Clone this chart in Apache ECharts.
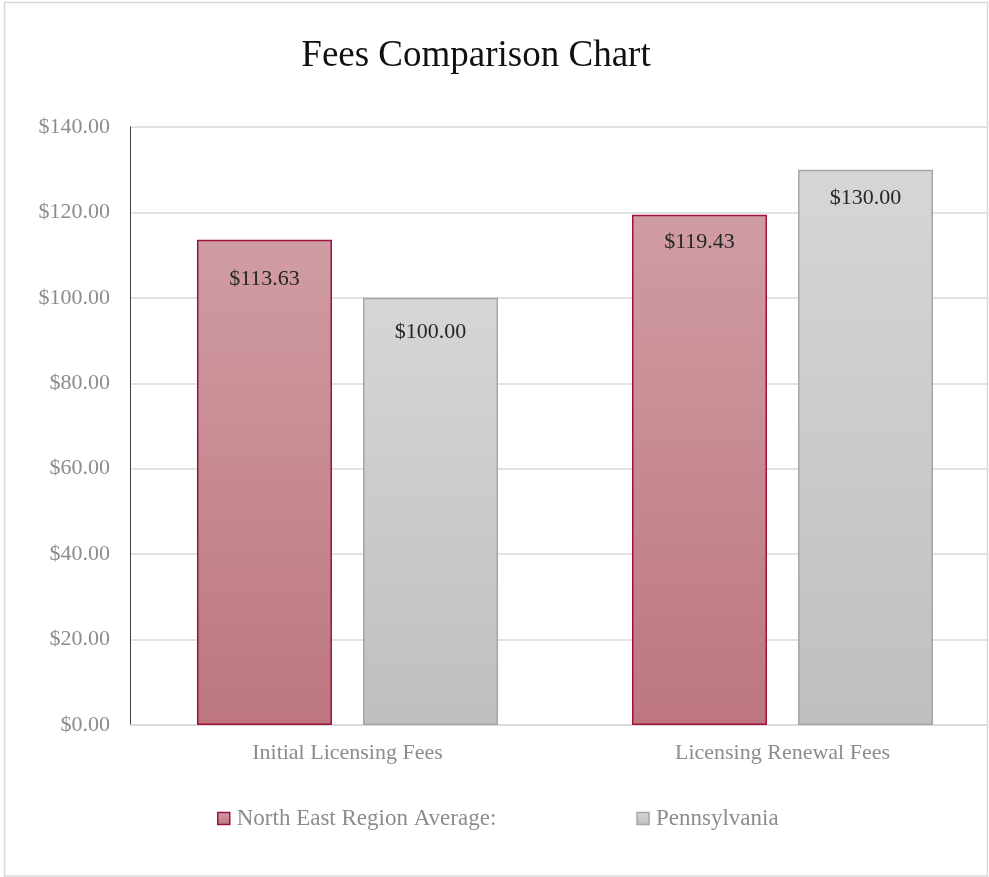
<!DOCTYPE html>
<html>
<head>
<meta charset="utf-8">
<script src="https://cdn.jsdelivr.net/npm/echarts@6/dist/echarts.min.js"></script>
<style>
html,body{margin:0;padding:0;background:#fff;}
#chart{width:989px;height:877px;}
</style>
</head>
<body>
<div id="chart"></div>
<script>
var categories = ['Initial Licensing Fees', 'Licensing Renewal Fees'];
var northEastValues = [113.63, 119.43];
var pennsylvaniaValues = [100.00, 130.00];
var seriesNames = ['North East Region Average:', 'Pennsylvania'];
var yTicks = [0, 20, 40, 60, 80, 100, 120, 140];
// label distance from bar top (style only)
var northEastLabelDist = [29, 16];
var pennsylvaniaLabelDist = [23, 18];

var FONT = '"Liberation Serif", "DejaVu Serif", serif';
var chart = echarts.init(document.getElementById('chart'), null, {renderer: 'canvas'});

function fmt(v){ return '$' + v.toFixed(2); }

var redGrad = new echarts.graphic.LinearGradient(0,0,0,1,[{offset:0,color:'#d09ca4'},{offset:1,color:'#bd767e'}]);
var grayGrad = new echarts.graphic.LinearGradient(0,0,0,1,[{offset:0,color:'#d6d6d6'},{offset:1,color:'#bfbfbf'}]);

function labelStyle(){
  return {
    show: true, position: 'insideTop', distance: 18,
    formatter: function(p){ return fmt(p.value); },
    color: '#262626', fontFamily: FONT, fontSize: 22
  };
}
function withLabels(values, dists){
  return values.map(function(v, i){ return {value: v, label: {distance: dists[i]}}; });
}

var option = {
  backgroundColor: '#ffffff',
  animation: false,
  title: {
    text: 'Fees Comparison Chart', left: 471, top: 33, textAlign: 'center',
    textStyle: {fontFamily: FONT, fontSize: 37, fontWeight: 'normal', color: '#111111'}
  },
  legend: {
    left: 212, top: 802, itemGap: 140, itemWidth: 12, itemHeight: 12,
    textStyle: {fontFamily: FONT, fontSize: 23, color: '#8c8c8c', padding: [0,0,0,2]},
    data: [
      {name: seriesNames[0], icon: 'rect', itemStyle: {color: redGrad, borderColor: '#a0103c', borderWidth: 1.5}},
      {name: seriesNames[1], icon: 'rect', itemStyle: {color: grayGrad, borderColor: '#a6a6a6', borderWidth: 1.5}}
    ]
  },
  grid: {left: 130, width: 870, top: 127, bottom: 152, containLabel: false, outerBoundsMode: 'none'},
  xAxis: {
    type: 'category', data: categories,
    axisLine: {show: true, lineStyle: {color: '#d9d9d9', width: 1.5}},
    axisTick: {show: false},
    axisLabel: {fontFamily: FONT, fontSize: 22, color: '#8c8c8c', margin: 17}
  },
  yAxis: {
    type: 'value', min: yTicks[0], max: yTicks[yTicks.length-1], interval: yTicks[1]-yTicks[0],
    axisLine: {show: true, lineStyle: {color: '#404040', width: 1}},
    axisTick: {show: false},
    splitLine: {lineStyle: {color: '#d9d9d9', width: 1.5}},
    axisLabel: {fontFamily: FONT, fontSize: 22, color: '#8c8c8c', margin: 20, formatter: function(v){ return fmt(v); }}
  },
  series: [
    {
      name: seriesNames[0], type: 'bar', data: withLabels(northEastValues, northEastLabelDist), barWidth: 135, barGap: '23%',
      itemStyle: {color: redGrad, borderColor: '#a0103c', borderWidth: 1.5},
      label: labelStyle()
    },
    {
      name: seriesNames[1], type: 'bar', data: withLabels(pennsylvaniaValues, pennsylvaniaLabelDist), barWidth: 135, barGap: '23%',
      itemStyle: {color: grayGrad, borderColor: '#a6a6a6', borderWidth: 1.5},
      label: labelStyle()
    }
  ],
  graphic: [
    {type: 'rect', z: 100, silent: true, shape: {x: 988, y: 0, width: 10, height: 877}, style: {fill: '#ffffff'}},
    {type: 'rect', z: 101, silent: true, shape: {x: 4.5, y: 2.5, width: 983, height: 873.5}, style: {fill: 'none', stroke: '#d9d9d9', lineWidth: 1.5}}
  ]
};
chart.setOption(option);
</script>
</body>
</html>
